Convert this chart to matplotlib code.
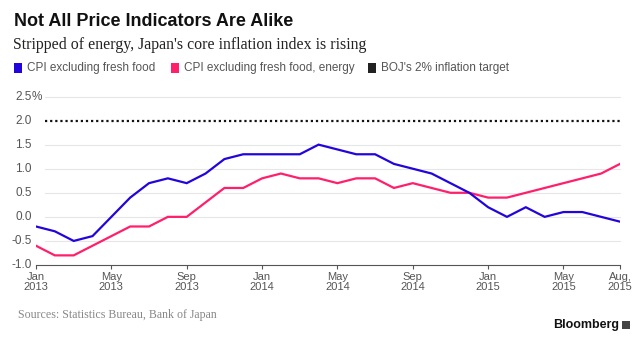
import matplotlib
matplotlib.use("Agg")
import matplotlib.pyplot as plt
from matplotlib.patches import Rectangle

months = ["Jan 2013","Feb 2013","Mar 2013","Apr 2013","May 2013","Jun 2013","Jul 2013","Aug 2013",
          "Sep 2013","Oct 2013","Nov 2013","Dec 2013","Jan 2014","Feb 2014","Mar 2014","Apr 2014",
          "May 2014","Jun 2014","Jul 2014","Aug 2014","Sep 2014","Oct 2014","Nov 2014","Dec 2014",
          "Jan 2015","Feb 2015","Mar 2015","Apr 2015","May 2015","Jun 2015","Jul 2015","Aug 2015"]
cpi_ex_fresh = [-0.2,-0.3,-0.5,-0.4,0.0,0.4,0.7,0.8,0.7,0.9,1.2,1.3,1.3,1.3,1.3,1.5,
                1.4,1.3,1.3,1.1,1.0,0.9,0.7,0.5,0.2,0.0,0.2,0.0,0.1,0.1,0.0,-0.1]
cpi_ex_fresh_energy = [-0.6,-0.8,-0.8,-0.6,-0.4,-0.2,-0.2,0.0,0.0,0.3,0.6,0.6,0.8,0.9,0.8,0.8,
                       0.7,0.8,0.8,0.6,0.7,0.6,0.5,0.5,0.4,0.4,0.5,0.6,0.7,0.8,0.9,1.1]
boj_target = 2.0
tick_idx = [0,4,8,12,16,20,24,28,31]
tick_labels = ["Jan\n2013","May\n2013","Sep\n2013","Jan\n2014","May\n2014","Sep\n2014",
               "Jan\n2015","May\n2015","Aug,\n2015"]
y_ticks = [-1.0,-0.5,0.0,0.5,1.0,1.5,2.0,2.5]
y_labels = ["-1.0","-0.5","0.0","0.5","1.0","1.5","2.0","2.5"]

W, H = 640, 338
fig = plt.figure(figsize=(W/100, H/100), dpi=100)
fig.patch.set_facecolor("white")

def fx(px): return px / W
def fy(py): return 1 - py / H

ax = fig.add_axes([fx(36), fy(265), fx(620) - fx(36), fy(96.5) - fy(265)])
ax.set_xlim(0, len(months) - 1)
ax.set_ylim(-1.0, 2.5)
for s in ["top", "right", "left"]:
    ax.spines[s].set_visible(False)
ax.spines["bottom"].set_color("#555555")
ax.spines["bottom"].set_linewidth(0.8)
ax.set_yticks([])
ax.set_xticks(tick_idx)
ax.set_xticklabels(tick_labels, fontsize=8, color="#555555", family="Liberation Sans", linespacing=0.95)
ax.tick_params(axis="x", length=3, width=0.8, color="#555555", pad=2)

x = list(range(len(months)))
xl = -4 / 584.0
for yv, lab in zip(y_ticks, y_labels):
    if -1.0 < yv and yv != boj_target:
        ax.plot([0.48, len(months) - 1], [yv, yv], color="#e6e6e6", lw=0.8, zorder=1, clip_on=False)
    ax.text(xl, yv, lab, transform=ax.get_yaxis_transform(), ha="right", va="center",
            fontsize=8.5, color="#555555", family="Liberation Sans")
    if yv == max(y_ticks):
        ax.text(xl, yv, "%", transform=ax.get_yaxis_transform(), ha="left", va="center",
                fontsize=8.5, color="#555555", family="Liberation Sans")

ax.plot([0.48, len(months) - 1], [boj_target, boj_target], color="#111111", lw=1.6,
        linestyle=(0, (1, 1.3)), zorder=2, clip_on=False)
ax.plot(x, cpi_ex_fresh_energy, color="#ff1f6b", lw=1.6, zorder=3, solid_joinstyle="miter")
ax.plot(x, cpi_ex_fresh, color="#2205dc", lw=1.6, zorder=4, solid_joinstyle="miter")

fig.text(fx(14), fy(22), "Not All Price Indicators Are Alike", fontsize=13, fontweight="bold",
         family="Liberation Sans", color="#111111", va="center", ha="left")
fig.text(fx(13), fy(45), "Stripped of energy, Japan's core inflation index is rising", fontsize=11.4,
         family="Liberation Serif", color="#222222", va="center", ha="left")

legend_items = [(14, "#2205dc", "CPI excluding fresh food"),
                (171, "#ff1f6b", "CPI excluding fresh food, energy"),
                (368, "#222222", "BOJ's 2% inflation target")]
for px, col, lab in legend_items:
    fig.patches.append(Rectangle((fx(px), fy(73)), fx(8), fy(63) - fy(73), transform=fig.transFigure,
                                 facecolor=col, edgecolor="none"))
    fig.text(fx(px + 13), fy(68), lab, fontsize=8.5, color="#555555", family="Liberation Sans",
             va="center", ha="left")

fig.text(fx(18), fy(315), "Sources: Statistics Bureau, Bank of Japan", fontsize=8.6, family="Liberation Serif",
         color="#888888", va="center", ha="left")
fig.text(fx(619), fy(325), "Bloomberg", fontsize=9, fontweight="bold", family="Liberation Sans",
         color="#111111", va="center", ha="right")
fig.patches.append(Rectangle((fx(622), fy(329)), fx(8), fy(321) - fy(329), transform=fig.transFigure,
                             facecolor="#444444", edgecolor="none"))

fig.savefig("out.png", dpi=100, facecolor="white")
